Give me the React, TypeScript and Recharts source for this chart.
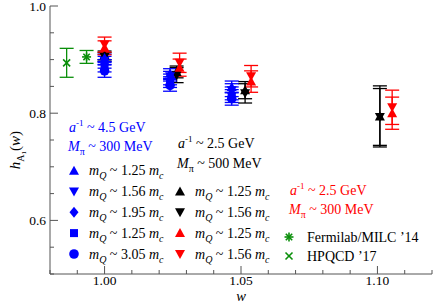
import React from 'react';
import { ScatterChart, Scatter, XAxis, YAxis, ErrorBar } from 'recharts';

const FONT = '"Liberation Serif", "Times New Roman", serif';
const AXIS = '#555555';
const BLUE = '#0000ff';
const RED = '#ff0000';
const BLACK = '#000000';
const GREEN = '#0a8f0a';

// ---- ticks ----
const xTicks = [0.98, 0.99, 1.0, 1.01, 1.02, 1.03, 1.04, 1.05, 1.06, 1.07, 1.08, 1.09, 1.1, 1.11, 1.12];
const xMajor = [1.0, 1.05, 1.1];
const xTickLabels = ['1.00', '1.05', '1.10'];
const yTicks = [0.5, 0.55, 0.6, 0.65, 0.7, 0.75, 0.8, 0.85, 0.9, 0.95, 1.0];
const yMajor = [0.6, 0.8, 1.0];
const yTickLabels = ['0.6', '0.8', '1.0'];

// ---- data: a^-1 ~ 4.5 GeV, Mpi ~ 300 MeV (blue) ----
const wBlue = [1.0, 1.024, 1.0466];
const blueUp = [0.903, 0.874, 0.849];
const blueUpErr = [0.007, 0.009, 0.011];
const blueDown = [0.898, 0.869, 0.843];
const blueDownErr = [0.008, 0.009, 0.012];
const blueDiamond = [0.892, 0.863, 0.837];
const blueDiamondErr = [0.008, 0.010, 0.012];
const blueSquare = [0.886, 0.858, 0.832];
const blueSquareErr = [0.009, 0.010, 0.012];
const blueCircle = [0.879, 0.852, 0.827];
const blueCircleErr = [0.012, 0.011, 0.012];

// ---- data: a^-1 ~ 2.5 GeV, Mpi ~ 500 MeV (black) ----
const wBlack = [1.0, 1.0264, 1.0515, 1.1009];
const blackUp = [0.908, 0.877, 0.843, 0.794];
const blackUpErr = [0.008, 0.011, 0.016, 0.057];
const blackDown = [0.905, 0.871, 0.837, 0.793];
const blackDownErr = [0.008, 0.014, 0.018, 0.053];

// ---- data: a^-1 ~ 2.5 GeV, Mpi ~ 300 MeV (red) ----
const wRed = [1.0, 1.0275, 1.0537, 1.1054];
const redUp = [0.922, 0.885, 0.859, 0.800];
const redUpErr = [0.013, 0.016, 0.020, 0.030];
const redDown = [0.928, 0.894, 0.869, 0.811];
const redDownErr = [0.014, 0.018, 0.020, 0.032];

// ---- other lattice results (green) ----
const wFermilab = [0.9934];
const fermilab = [0.905];
const fermilabErr = [0.012];
const wHpqcd = [0.9861];
const hpqcd = [0.894];
const hpqcdErr = [0.027];

const build = (w: number[], v: number[], e: number[]) => w.map((x, i) => ({ w: x, v: v[i], e: e[i] }));

const near = (a: number, b: number) => Math.abs(a - b) < 1e-6;
const majorIdx = (v: number, arr: number[]) => arr.findIndex((m) => near(m, v));

type Kind = 'tu' | 'td' | 'di' | 'sq' | 'ci' | 'star' | 'x';

function Marker({ kind, cx, cy, color }: { kind: Kind; cx: number; cy: number; color: string }) {
  if (cx == null || cy == null) return null;
  switch (kind) {
    case 'tu':
      return <polygon points={`${cx - 5},${cy + 4} ${cx + 5},${cy + 4} ${cx},${cy - 5}`} fill={color} />;
    case 'td':
      return <polygon points={`${cx - 5},${cy - 4} ${cx + 5},${cy - 4} ${cx},${cy + 5}`} fill={color} />;
    case 'di':
      return <polygon points={`${cx},${cy - 5.5} ${cx + 4.5},${cy} ${cx},${cy + 5.5} ${cx - 4.5},${cy}`} fill={color} />;
    case 'sq':
      return <rect x={cx - 4} y={cy - 4} width={8} height={8} fill={color} />;
    case 'ci':
      return <circle cx={cx} cy={cy} r={4.8} fill={color} />;
    case 'star':
      return (
        <g stroke={color} strokeWidth={1.6}>
          <line x1={cx - 4.5} x2={cx + 4.5} y1={cy} y2={cy} />
          <line x1={cx} x2={cx} y1={cy - 4.5} y2={cy + 4.5} />
          <line x1={cx - 3.2} x2={cx + 3.2} y1={cy - 3.2} y2={cy + 3.2} />
          <line x1={cx - 3.2} x2={cx + 3.2} y1={cy + 3.2} y2={cy - 3.2} />
        </g>
      );
    case 'x':
      return (
        <g stroke={color} strokeWidth={1.6}>
          <line x1={cx - 3.5} x2={cx + 3.5} y1={cy - 3.5} y2={cy + 3.5} />
          <line x1={cx - 3.5} x2={cx + 3.5} y1={cy + 3.5} y2={cy - 3.5} />
        </g>
      );
  }
  return null;
}

const shapeOf = (kind: Kind, color: string) => (p: any) => <Marker kind={kind} cx={p.cx} cy={p.cy} color={color} />;

function BottomTick(props: any) {
  const { x, y, payload } = props;
  const i = majorIdx(payload.value, xMajor);
  const len = i >= 0 ? 8 : 4;
  return (
    <g>
      <line x1={x} x2={x} y1={y} y2={y - len} stroke={AXIS} strokeWidth={1} />
      {i >= 0 && (
        <text x={x} y={y + 11} textAnchor="middle" fontFamily={FONT} fontSize={13.5} fill="#000">
          {xTickLabels[i]}
        </text>
      )}
    </g>
  );
}
function TopTick(props: any) {
  const { x, y, payload } = props;
  const len = majorIdx(payload.value, xMajor) >= 0 ? 8 : 4;
  return <line x1={x} x2={x} y1={y} y2={y + len} stroke={AXIS} strokeWidth={1} />;
}
function LeftTick(props: any) {
  const { x, y, payload } = props;
  const i = majorIdx(payload.value, yMajor);
  const len = i >= 0 ? 8 : 4;
  return (
    <g>
      <line x1={x} x2={x + len} y1={y} y2={y} stroke={AXIS} strokeWidth={1} />
      {i >= 0 && (
        <text x={x - 4} y={y + 4.7} textAnchor="end" fontFamily={FONT} fontSize={13.5} fill="#000">
          {yTickLabels[i]}
        </text>
      )}
    </g>
  );
}
function RightTick(props: any) {
  const { x, y, payload } = props;
  const len = majorIdx(payload.value, yMajor) >= 0 ? 8 : 4;
  return <line x1={x} x2={x - len} y1={y} y2={y} stroke={AXIS} strokeWidth={1} />;
}

const series: { data: { w: number; v: number; e: number }[]; kind: Kind; color: string }[] = [
  { data: build(wHpqcd, hpqcd, hpqcdErr), kind: 'x', color: GREEN },
  { data: build(wFermilab, fermilab, fermilabErr), kind: 'star', color: GREEN },
  { data: build(wBlack, blackUp, blackUpErr), kind: 'tu', color: BLACK },
  { data: build(wBlack, blackDown, blackDownErr), kind: 'td', color: BLACK },
  { data: build(wBlue, blueCircle, blueCircleErr), kind: 'ci', color: BLUE },
  { data: build(wBlue, blueSquare, blueSquareErr), kind: 'sq', color: BLUE },
  { data: build(wBlue, blueDiamond, blueDiamondErr), kind: 'di', color: BLUE },
  { data: build(wBlue, blueDown, blueDownErr), kind: 'td', color: BLUE },
  { data: build(wBlue, blueUp, blueUpErr), kind: 'tu', color: BLUE },
  { data: build(wRed, redUp, redUpErr), kind: 'tu', color: RED },
  { data: build(wRed, redDown, redDownErr), kind: 'td', color: RED },
];

function Header({ x, y, color, text }: { x: number; y: number; color: string; text: string }) {
  return (
    <text x={x} y={y} fill={color} fontFamily={FONT} fontSize={14}>
      <tspan fontStyle="italic">a</tspan>
      <tspan dy={-6} fontSize={9}>-1</tspan>
      <tspan dy={6}> ~ {text}</tspan>
    </text>
  );
}
function MpiLine({ x, y, color, text }: { x: number; y: number; color: string; text: string }) {
  return (
    <text x={x} y={y} fill={color} fontFamily={FONT} fontSize={14}>
      <tspan fontStyle="italic">M</tspan>
      <tspan dy={4} fontSize={10}>π</tspan>
      <tspan dy={-4}> ~ {text}</tspan>
    </text>
  );
}
function MassLabel({ x, y, ratio }: { x: number; y: number; ratio: string }) {
  return (
    <text x={x} y={y} fill="#000" fontFamily={FONT} fontSize={14}>
      <tspan fontStyle="italic">m</tspan>
      <tspan dy={4} fontSize={10} fontStyle="italic">Q</tspan>
      <tspan dy={-4}> ~ {ratio} </tspan>
      <tspan fontStyle="italic">m</tspan>
      <tspan dy={4} fontSize={10} fontStyle="italic">c</tspan>
    </text>
  );
}

const blueLegend: { kind: Kind; ratio: string }[] = [
  { kind: 'tu', ratio: '1.25' },
  { kind: 'td', ratio: '1.56' },
  { kind: 'di', ratio: '1.95' },
  { kind: 'sq', ratio: '1.25' },
  { kind: 'ci', ratio: '3.05' },
];
const blackRedLegend: { kind: Kind; color: string; ratio: string }[] = [
  { kind: 'tu', color: BLACK, ratio: '1.25' },
  { kind: 'td', color: BLACK, ratio: '1.56' },
  { kind: 'tu', color: RED, ratio: '1.25' },
  { kind: 'td', color: RED, ratio: '1.56' },
];
const rowY = [170.7, 191.5, 212.3, 233.1, 254];

export default function App() {
  return (
    <div style={{ position: 'absolute', left: 0, top: 0, width: 436, height: 303, background: '#fff' }}>
      <ScatterChart width={436} height={303} margin={{ top: 6, right: 4, bottom: 0, left: 0 }}>
        <XAxis
          xAxisId="b"
          type="number"
          dataKey="w"
          domain={[0.98, 1.12]}
          ticks={xTicks}
          interval={0}
          orientation="bottom"
          height={29}
          tickSize={0}
          tickMargin={0}
          stroke={AXIS}
          tick={<BottomTick />}
          allowDataOverflow
        />
        <XAxis
          xAxisId="t"
          type="number"
          domain={[0.98, 1.12]}
          ticks={xTicks}
          interval={0}
          orientation="top"
          height={0}
          tickSize={0}
          tickMargin={0}
          stroke={AXIS}
          tick={<TopTick />}
          allowDataOverflow
        />
        <YAxis
          yAxisId="l"
          type="number"
          dataKey="v"
          domain={[0.5, 1.0]}
          ticks={yTicks}
          interval={0}
          orientation="left"
          width={50}
          tickSize={0}
          tickMargin={0}
          stroke={AXIS}
          tick={<LeftTick />}
          allowDataOverflow
        />
        <YAxis
          yAxisId="r"
          type="number"
          domain={[0.5, 1.0]}
          ticks={yTicks}
          interval={0}
          orientation="right"
          width={0}
          tickSize={0}
          tickMargin={0}
          stroke={AXIS}
          tick={<RightTick />}
          allowDataOverflow
        />
        {series.map((s, i) => (
          <Scatter
            key={i}
            data={s.data}
            xAxisId="b"
            yAxisId="l"
            isAnimationActive={false}
            shape={shapeOf(s.kind, s.color)}
          >
            <ErrorBar dataKey="e" direction="y" width={7} stroke={s.color} strokeWidth={1.3} />
          </Scatter>
        ))}
      </ScatterChart>
      <svg
        width={436}
        height={303}
        style={{ position: 'absolute', left: 0, top: 0, pointerEvents: 'none' }}
      >
        {/* axis titles */}
        <text x={241} y={301} textAnchor="middle" fontFamily={FONT} fontSize={14.5} fontStyle="italic" fill="#000">
          w
        </text>
        <text
          x={20}
          y={150}
          transform="rotate(-90, 20, 150)"
          textAnchor="middle"
          fontFamily={FONT}
          fontSize={15}
          fill="#000"
        >
          <tspan fontStyle="italic">h</tspan>
          <tspan dy={4} fontSize={10}>A</tspan>
          <tspan dy={2} fontSize={7}>1</tspan>
          <tspan dy={-6}>(</tspan>
          <tspan fontStyle="italic">w</tspan>
          <tspan>)</tspan>
        </text>

        {/* blue group */}
        <Header x={69} y={132} color={BLUE} text="4.5 GeV" />
        <MpiLine x={68} y={151} color={BLUE} text="300 MeV" />
        {blueLegend.map((r, i) => (
          <g key={'b' + i}>
            <Marker kind={r.kind} cx={74} cy={rowY[i]} color={BLUE} />
            <MassLabel x={89} y={rowY[i] + 4.5} ratio={r.ratio} />
          </g>
        ))}

        {/* black group */}
        <Header x={178} y={148} color={BLACK} text="2.5 GeV" />
        <MpiLine x={177} y={168} color={BLACK} text="500 MeV" />
        {blackRedLegend.map((r, i) => (
          <g key={'k' + i}>
            <Marker kind={r.kind} cx={180} cy={rowY[i + 1]} color={r.color} />
            <MassLabel x={195} y={rowY[i + 1] + 4.5} ratio={r.ratio} />
          </g>
        ))}

        {/* red group */}
        <Header x={290} y={195} color={RED} text="2.5 GeV" />
        <MpiLine x={289} y={214} color={RED} text="300 MeV" />

        {/* green legend */}
        <Marker kind="star" cx={289} cy={237} color={GREEN} />
        <text x={307} y={241.7} fontFamily={FONT} fontSize={14} fill="#000">
          Fermilab/MILC ’14
        </text>
        <Marker kind="x" cx={289} cy={256} color={GREEN} />
        <text x={307} y={260.5} fontFamily={FONT} fontSize={14} fill="#000">
          HPQCD ’17
        </text>
      </svg>
    </div>
  );
}
